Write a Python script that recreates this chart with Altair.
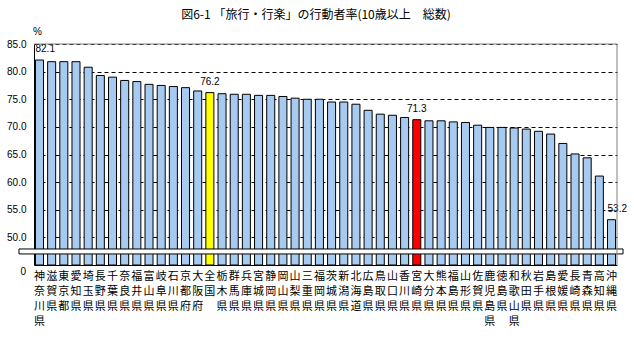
import altair as alt
import pandas as pd

prefs = ["神奈川県", "滋賀県", "東京都", "愛知県", "埼玉県", "長野県", "千葉県", "奈良県",
         "福井県", "富山県", "岐阜県", "石川県", "京都府", "大阪府", "全国", "栃木県",
         "群馬県", "兵庫県", "宮城県", "静岡県", "岡山県", "山梨県", "三重県", "福岡県",
         "茨城県", "新潟県", "北海道", "広島県", "鳥取県", "山口県", "香川県", "宮崎県",
         "大分県", "熊本県", "福島県", "山形県", "佐賀県", "鹿児島県", "徳島県", "和歌山県",
         "秋田県", "岩手県", "島根県", "愛媛県", "長崎県", "青森県", "高知県", "沖縄県"]
values = [82.1, 81.8, 81.8, 81.8, 80.8, 79.3, 79.0, 78.4,
          78.2, 77.7, 77.5, 77.3, 77.1, 76.5, 76.2, 76.0,
          75.9, 75.9, 75.7, 75.7, 75.5, 75.2, 75.0, 75.0,
          74.5, 74.5, 74.1, 73.0, 72.3, 72.1, 71.7, 71.3,
          71.1, 71.1, 70.9, 70.8, 70.3, 69.9, 69.9, 69.8,
          69.6, 69.2, 68.7, 67.0, 65.1, 64.4, 61.1, 53.2]
highlight_colors = {"全国": "#FFFF00", "宮崎県": "#FF0000"}
labels_left = ["神奈川県", "沖縄県"]
labels_center = ["全国", "宮崎県"]
y_ticks = [50, 55, 60, 65, 70, 75, 80, 85]
title_text = "図6-1 「旅行・行楽」の行動者率(10歳以上　総数)"

BAR = "#A6CAF0"
df = pd.DataFrame({"pref": prefs, "value": values})
df["color"] = [highlight_colors.get(p, BAR) for p in prefs]

W, H = 583, 221
JP = "Noto Sans CJK JP"
NUM = "Liberation Sans"

yscale = alt.Scale(domain=[45, 85], zero=False, nice=False)
yaxis = alt.Axis(title=None, values=y_ticks, format=".1f", ticks=False,
                 labelPadding=8, labelFont=NUM, labelFontSize=10,
                 labelColor="black", domainColor="black", labelOverlap=False,
                 grid=True, gridColor="black", gridDash=[4, 3], gridWidth=1)
xscale = alt.Scale(paddingInner=0.34, paddingOuter=0.12)
xaxis = alt.Axis(title=None, labelAngle=0, ticks=False, domainColor="black",
                 labelExpr="split(datum.label, '')", labelLineHeight=15,
                 labelBaseline="top", labelPadding=5, labelFont=JP,
                 labelFontSize=11, labelColor="black", labelOverlap=False,
                 labelLimit=0)
xenc = alt.X("pref:N", sort=prefs, scale=xscale, axis=xaxis)
yenc = alt.Y("value:Q", scale=yscale, axis=yaxis)

base = alt.Chart(df)

bars = base.mark_bar(stroke="black", strokeWidth=1).encode(
    x=xenc, y=yenc, y2=alt.Y2Datum(45),
    color=alt.Color("color:N", scale=None),
)

lab_left = base.mark_text(align="left", baseline="middle", dx=-4, dy=-11,
                          font=NUM, fontSize=10, color="black").encode(
    x=xenc, y=yenc, text=alt.Text("value:Q", format=".1f")
).transform_filter(alt.FieldOneOfPredicate(field="pref", oneOf=labels_left))

lab_center = base.mark_text(align="center", baseline="middle", dy=-11,
                            font=NUM, fontSize=10, color="black").encode(
    x=xenc, y=yenc, text=alt.Text("value:Q", format=".1f")
).transform_filter(alt.FieldOneOfPredicate(field="pref", oneOf=labels_center))

one = pd.DataFrame({"a": [0]})
brk = alt.Chart(one).mark_rect(fill="white", stroke="black", strokeWidth=1).encode(
    x=alt.value(-15), x2=alt.value(589),
    y=alt.YDatum(47.0, type="quantitative", scale=yscale, axis=yaxis),
    y2=alt.Y2Datum(47.9)
)

top_rule = alt.Chart(one).mark_rule(color="#808080", strokeWidth=1).encode(
    x=alt.value(0), x2=alt.value(W), y=alt.value(0)
)
right_rule = alt.Chart(one).mark_rule(color="#808080", strokeWidth=1).encode(
    x=alt.value(W), y=alt.value(0), y2=alt.value(H)
)

zero_lab = alt.Chart(pd.DataFrame({"t": ["0"]})).mark_text(
    align="right", baseline="middle", font=NUM, fontSize=10, color="black", dy=7).encode(
    x=alt.value(-8), y=alt.YDatum(45, type="quantitative", scale=yscale, axis=yaxis), text="t:N"
)
pct = alt.Chart(pd.DataFrame({"t": ["%"]})).mark_text(
    align="left", baseline="middle", font=NUM, fontSize=10, color="black").encode(
    x=alt.value(-1), y=alt.value(-12), text="t:N"
)
title = alt.Chart(pd.DataFrame({"t": [title_text]})).mark_text(
    align="center", baseline="middle", font=JP, fontSize=12, color="black").encode(
    x=alt.value(282), y=alt.value(-29), text="t:N"
)

chart = alt.layer(bars, lab_left, lab_center, brk, top_rule, right_rule, zero_lab, pct, title).properties(
    width=W, height=H, autosize="none",
    padding={"left": 34, "top": 44, "right": 17, "bottom": 86},
    background="white",
).configure_view(stroke=None)

chart.save("out.html", embed_options={"renderer": "svg", "actions": False})
